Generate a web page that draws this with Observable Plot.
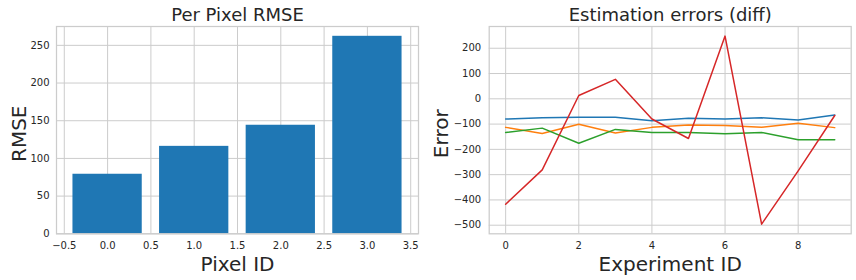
<!DOCTYPE html>
<html>
<head>
<meta charset="utf-8">
<script src="https://cdn.jsdelivr.net/npm/d3@7"></script>
<script src="https://cdn.jsdelivr.net/npm/@observablehq/plot@0.6"></script>
<style>
  html, body { margin: 0; padding: 0; background: #fff; }
  #wrap { display: flex; width: 856px; height: 280px; }
  #wrap svg { display: block; }
</style>
</head>
<body>
<div id="wrap"></div>
<script>
// ---- data ----
const pixelIds = [0, 1, 2, 3];
const rmse = [79, 116, 144, 262];

const experimentIds = [0, 1, 2, 3, 4, 5, 6, 7, 8, 9];
const errPixel0 = [-80, -75, -73, -73, -87, -77, -80, -75, -84, -64];
const errPixel1 = [-113, -137, -101, -135, -113, -104, -106, -113, -97, -114];
const errPixel2 = [-133, -116, -176, -121, -133, -133, -138, -133, -162, -162];
const errPixel3 = [-417, -281, 13, 77, -80, -157, 248, -496, -285, -66];
const seriesNames = ["0", "1", "2", "3"];
const seriesColors = ["#1f77b4", "#ff7f0e", "#2ca02c", "#d62728"];

const leftXTicks = [-0.5, 0, 0.5, 1, 1.5, 2, 2.5, 3, 3.5];
const leftYTicks = [0, 50, 100, 150, 200, 250];
const rightXTicks = [0, 2, 4, 6, 8];
const rightYTicks = [-500, -400, -300, -200, -100, 0, 100, 200];

// ---- styles ----
const FONT = "DejaVu Sans, sans-serif";
const TXT = "#262626";
const GRID = "#cccccc";

const bars = pixelIds.map((id, i) => ({id, v: rmse[i]}));
const allSeries = [errPixel0, errPixel1, errPixel2, errPixel3];
const lines = [];
allSeries.forEach((arr, s) => arr.forEach((v, i) => lines.push({x: experimentIds[i], y: v, s: seriesNames[s]})));

const left = Plot.plot({
  width: 428, height: 280,
  marginLeft: 56, marginRight: 10, marginTop: 26, marginBottom: 46.7,
  style: {fontFamily: FONT, fontSize: "10px", color: TXT, background: "#fff"},
  x: {domain: [-0.59, 3.59], label: null},
  y: {domain: [0, 275], label: null},
  marks: [
    Plot.gridX(leftXTicks, {stroke: GRID, strokeOpacity: 1, strokeWidth: 1}),
    Plot.gridY(leftYTicks, {stroke: GRID, strokeOpacity: 1, strokeWidth: 1}),
    Plot.rectY(bars, {x1: d => d.id - 0.4, x2: d => d.id + 0.4, y1: 0, y2: "v", fill: "#1f77b4"}),
    Plot.frame({stroke: GRID, strokeWidth: 1.25}),
    Plot.axisX(leftXTicks, {tickSize: 0, tickPadding: 8, tickFormat: d3.format(".1f"), fill: TXT, label: null}),
    Plot.axisY(leftYTicks, {tickSize: 0, tickPadding: 7, fill: TXT, label: null}),
    Plot.text(["Per Pixel RMSE"], {frameAnchor: "top", lineAnchor: "bottom", textAnchor: "middle", dy: -5.3, fontSize: 18, fill: TXT}),
    Plot.text(["Pixel ID"], {frameAnchor: "bottom", lineAnchor: "bottom", textAnchor: "middle", dy: 36.7, fontSize: 20, fill: TXT}),
    Plot.text(["RMSE"], {frameAnchor: "left", lineAnchor: "bottom", textAnchor: "middle", rotate: -90, dx: -31, dy: 3.6, fontSize: 20, fill: TXT})
  ]
});

const right = Plot.plot({
  width: 428, height: 280,
  marginLeft: 60.7, marginRight: 5.3, marginTop: 26, marginBottom: 46.7,
  style: {fontFamily: FONT, fontSize: "10px", color: TXT, background: "#fff"},
  x: {domain: [-0.45, 9.45], label: null},
  y: {domain: [-534, 286], label: null},
  color: {domain: seriesNames, range: seriesColors},
  marks: [
    Plot.gridX(rightXTicks, {stroke: GRID, strokeOpacity: 1, strokeWidth: 1}),
    Plot.gridY(rightYTicks, {stroke: GRID, strokeOpacity: 1, strokeWidth: 1}),
    Plot.frame({stroke: GRID, strokeWidth: 1.25}),
    Plot.lineY(lines, {x: "x", y: "y", z: "s", stroke: "s", strokeWidth: 1.5}),
    Plot.axisX(rightXTicks, {tickSize: 0, tickPadding: 8, fill: TXT, label: null}),
    Plot.axisY(rightYTicks, {tickSize: 0, tickPadding: 8, fill: TXT, label: null}),
    Plot.text(["Estimation errors (diff)"], {frameAnchor: "top", lineAnchor: "bottom", textAnchor: "middle", dy: -5.3, fontSize: 18, fill: TXT}),
    Plot.text(["Experiment ID"], {frameAnchor: "bottom", lineAnchor: "bottom", textAnchor: "middle", dy: 36.7, fontSize: 20, fill: TXT}),
    Plot.text(["Error"], {frameAnchor: "left", lineAnchor: "bottom", textAnchor: "middle", rotate: -90, dx: -40.7, dy: 3.6, fontSize: 20, fill: TXT})
  ]
});

document.getElementById("wrap").append(left, right);
</script>
</body>
</html>
